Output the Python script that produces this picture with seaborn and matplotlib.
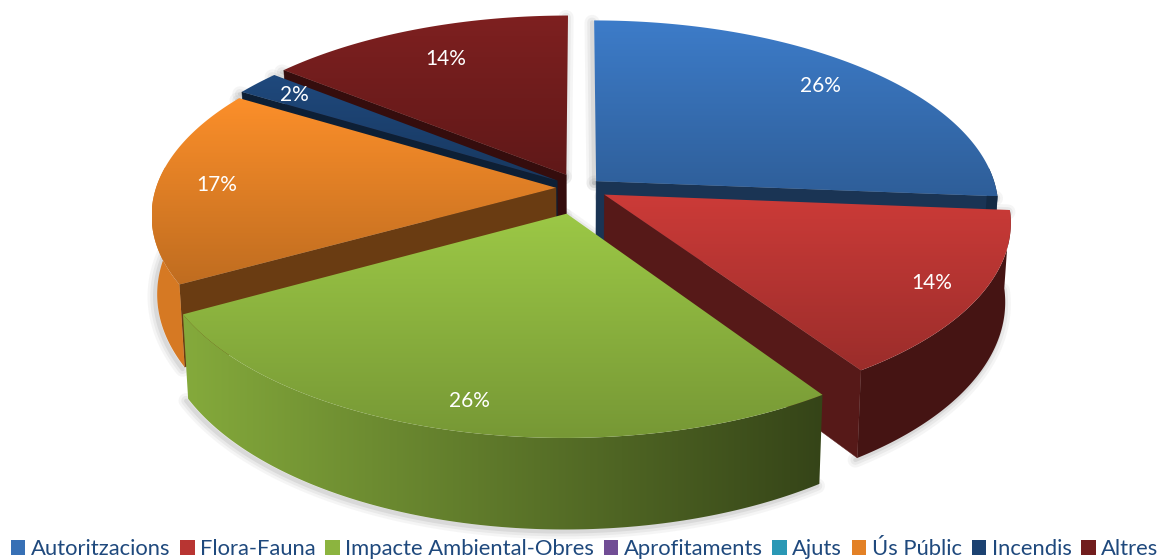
# 3D exploded pie, seaborn for theme/palette, matplotlib patches for the faces
import numpy as np
import matplotlib
matplotlib.use('Agg')
import matplotlib.pyplot as plt
import seaborn as sns
from matplotlib.colors import LinearSegmentedColormap
from matplotlib.patches import Polygon, Patch

categories = ['Autoritzacions', 'Flora-Fauna', 'Impacte Ambiental-Obres', 'Aprofitaments',
              'Ajuts', 'Ús Públic', 'Incendis', 'Altres']
shares = [26.3, 14.3, 26.3, 0, 0, 16.8, 2.1, 14.2]
explode = [0.055, 0.07, 0.14, 0.0, 0.0, 0.06, 0.07, 0.08]
label_r = [0.83, 0.88, 0.88, 0.0, 0.0, 0.85, 0.87, 0.78]
hex_colors = ['#3D7CC9', '#CC3B38', '#9CC846', '#7E56A6', '#2FA9C9', '#FC8F2A', '#1F497D', '#7E2020']
# drawn back to front
draw_order = [7, 0, 6, 5, 1, 2]

sns.set_theme(style='white')
plt.rcParams['font.family'] = ['Lato', 'DejaVu Sans']
palette = sns.color_palette(hex_colors)

CX, CY = 580, 188
RX, B, K = 400, 185, 0.14
DEPTH, TAPER = 77, 0.013


def proj(X, Y, z=0.0):
    X, Y = np.asarray(X), np.asarray(Y)
    w = 1 - K * Y
    return np.column_stack([CX + RX * X / w * (1 - TAPER * z), CY + (B * Y + DEPTH * z) / w])


def shade(c, f):
    return tuple(np.clip(np.array(c) * f, 0, 1))


def wall_factor(x):
    # walls get darker from left to right over the whole pie
    return float(np.clip(0.85 - 0.53 * (x - 185) / 640, 0.34, 0.85))


def fill(ax, pts, c0, c1, horizontal=False, z=2):
    patch = Polygon(pts, closed=True, fc='none', ec='none')
    ax.add_patch(patch)
    grad = np.linspace(0, 1, 256)
    grad = grad[None, :] if horizontal else grad[:, None]
    cmap = LinearSegmentedColormap.from_list('g', [c0, c1])
    x0, y0 = pts.min(axis=0)
    x1, y1 = pts.max(axis=0)
    im = ax.imshow(grad, cmap=cmap, extent=(x0, x1, y1, y0), aspect='auto', zorder=z,
                   interpolation='bilinear')
    im.set_clip_path(patch)


def soft_shadow(ax, pts):
    for lw, a in [(11, 0.05), (7, 0.07), (3, 0.10)]:
        ax.plot(pts[:, 0] - 2, pts[:, 1] + 2, color='0.3', lw=lw, alpha=a, zorder=1,
                solid_capstyle='round')


fig = plt.figure(figsize=(11.6, 5.59), dpi=100)
ax = fig.add_axes([0, 0, 1, 1])

edges = np.concatenate([[0], np.cumsum(shares)]) / np.sum(shares) * 2 * np.pi
order_z = 2
for i in draw_order:
    t0, t1 = edges[i], edges[i + 1]
    mid = (t0 + t1) / 2
    ax0, ay0 = explode[i] * np.sin(mid), -explode[i] * np.cos(mid)
    th = np.linspace(t0, t1, 160)
    ox, oy = ax0 + np.sin(th), ay0 - np.cos(th)
    base = palette[i]

    keep = oy > -0.12
    if keep.any():
        soft_shadow(ax, proj(ox[keep], oy[keep], 1.0))

    # radial cut faces that look towards the viewer
    for t, sign in ((t0, -1), (t1, 1)):
        xs = np.array([ax0, ax0 + np.sin(t)])
        ys = np.array([ay0, ay0 - np.cos(t)])
        soft_shadow(ax, proj(xs, ys, 0.0))
        if sign * np.sin(t) > 0.01:
            face = np.vstack([proj(xs, ys, 0.0), proj(xs[::-1], ys[::-1], 1.0)])
            ax.add_patch(Polygon(face, closed=True, fc=shade(base, 0.42), ec=shade(base, 0.42),
                                 lw=0.3, zorder=order_z))
            order_z += 1

    # outer wall
    if keep.any():
        wall = np.vstack([proj(ox[keep], oy[keep], 0.0), proj(ox[keep][::-1], oy[keep][::-1], 1.0)])
        fill(ax, wall, shade(base, wall_factor(wall[:, 0].min())),
             shade(base, wall_factor(wall[:, 0].max())), horizontal=True, z=order_z)
        order_z += 1

    # top
    top = np.vstack([proj([ax0], [ay0]), proj(ox, oy)])
    fill(ax, top, base, shade(base, 0.76), z=order_z)
    order_z += 1

    lr = label_r[i]
    lab = proj([ax0 + lr * np.sin(mid)], [ay0 - lr * np.cos(mid)])[0]
    ax.text(lab[0], lab[1], f'{shares[i]:.0f}%', color='white', fontsize=15,
            ha='center', va='center', zorder=100)

ax.set_xlim(0, 1160)
ax.set_ylim(559, 0)
ax.axis('off')

handles = [Patch(fc=shade(c, 0.9), ec='none') for c in palette]
ax.legend(handles, categories, loc='lower center', bbox_to_anchor=(0.504, 0.0), ncol=8,
          frameon=False, fontsize=15.8, labelcolor='#1F497D', handlelength=0.66, handleheight=0.66,
          handletextpad=0.25, columnspacing=0.44, borderpad=0, borderaxespad=0)

fig.savefig('out.png', dpi=100)
